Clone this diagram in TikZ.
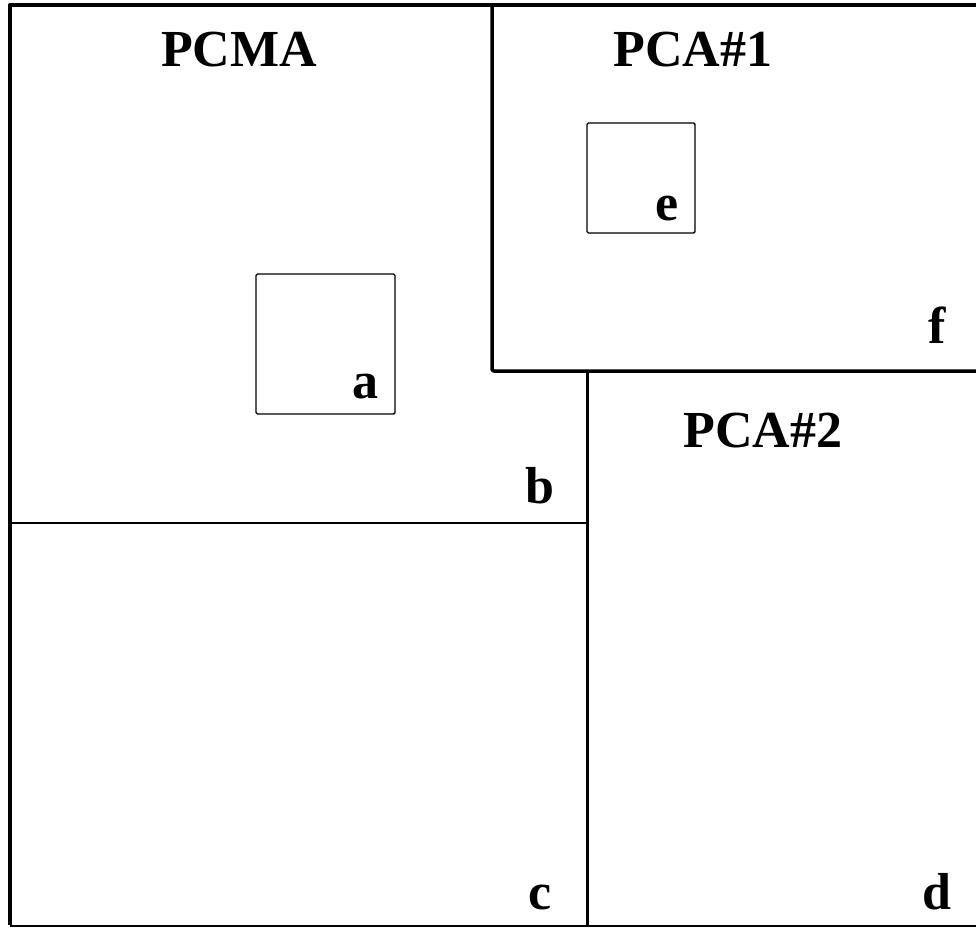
\documentclass[tikz,border=0pt]{standalone}
\usepackage{fontspec}
\setmainfont{Liberation Serif}
\usepackage{tikz}
\usetikzlibrary{positioning}

\begin{document}
\begin{tikzpicture}[x=1pt,y=-1pt,
		tag/.style={anchor=base, inner sep=0pt, font=\fontsize{52}{56}\selectfont\bfseries},
		frame/.style={line width=4pt, line join=round},
		inner box/.style={line width=1.4pt, rounded corners=1.5pt}]
		\useasboundingbox (0,0) rectangle (976,928);

		\draw[frame] (976,5) -- (10,5) -- (10,925);
		\draw[line width=2pt] (10,926) -- (976,926);
		\draw[frame, line width=3.5pt, rounded corners=2pt] (492,5) -- (492,371) -- (976,371);
		\draw[line width=3pt] (587,371) -- (587,926);
		\draw[line width=2pt] (10,523) -- (587,523);

		\draw[inner box] (256,274) rectangle (395,414);
		\draw[inner box] (587,123) rectangle (695,233);

		\node[tag] (pcma) at (239,67) {PCMA};
		\node[tag] (pca1) at (693,67) {PCA\#1};
		\node[tag] (pca2) at (763,447) {PCA\#2};

		\node[tag] (a) at (365,398) {a};
		\node[tag] (b) at (540,503) {b};
		\node[tag] (c) at (540,909) {c};
		\node[tag] (d) at (937,909) {d};
		\node[tag] (e) at (667,220) {e};
		\node[tag] (f) at (937,343) {f};
	\end{tikzpicture}
\end{document}
